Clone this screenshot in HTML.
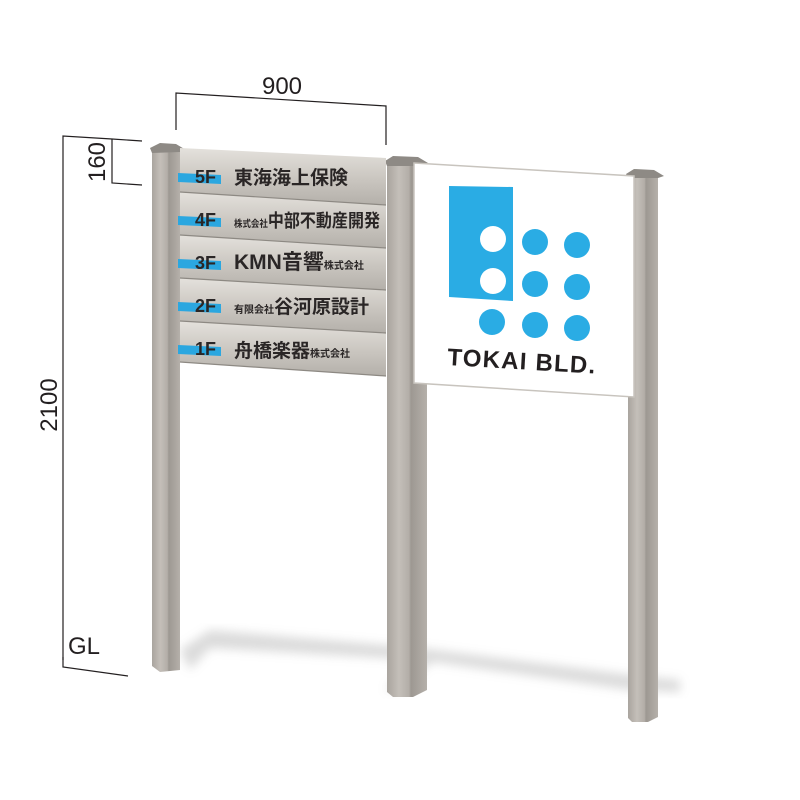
<!DOCTYPE html>
<html><head><meta charset="utf-8"><style>
html,body{margin:0;padding:0;background:#fff}
svg{display:block}
.j{font-family:"Liberation Sans","Noto Sans CJK JP",sans-serif;font-weight:bold;fill:#2a2626}
.d{font-family:"Liberation Sans",sans-serif;fill:#231f20}
</style></head><body>
<svg width="800" height="800" viewBox="0 0 800 800" xmlns="http://www.w3.org/2000/svg">
<defs>
<linearGradient id="post" x1="0" x2="1">
<stop offset="0" stop-color="#a9a49e"/><stop offset="0.3" stop-color="#c4bfb9"/><stop offset="0.55" stop-color="#b3aea8"/><stop offset="0.6" stop-color="#9d9892"/><stop offset="1" stop-color="#b5b0aa"/>
</linearGradient>
<linearGradient id="pan" x1="0" y1="0" x2="0" y2="1">
<stop offset="0" stop-color="#e4e1dc"/><stop offset="0.5" stop-color="#ccc8c2"/><stop offset="1" stop-color="#b4b0aa"/>
</linearGradient>
<filter id="bl"><feGaussianBlur stdDeviation="5"/></filter>
</defs>
<!-- shadow -->
<g filter="url(#bl)" opacity="0.35">
<polygon points="180,650 210,630 420,648 640,676 680,680 680,692 630,690 420,660 210,648 190,670" fill="#9a9a9a"/>
<polygon points="410,665 440,655 400,690 385,690" fill="#9a9a9a"/>
</g>
<!-- dimension lines -->
<g stroke="#231f20" stroke-width="1.2" fill="none">
<polyline points="176,130 176,93 386,106 386,145"/>
<polyline points="63,660 63,136 112,139 142,141"/>
<polyline points="112,139 112,183 142,185"/>
<polyline points="63,657 63,667 128,676"/>
</g>
<text class="d" x="282" y="94" font-size="24" text-anchor="middle">900</text>
<text class="d" font-size="24" text-anchor="middle" transform="translate(105,162) rotate(-90)">160</text>
<text class="d" font-size="24" text-anchor="middle" transform="translate(57,405) rotate(-90)">2100</text>
<text class="d" x="68" y="654" font-size="24">GL</text>
<!-- posts -->
<polygon points="152,150 180,148 180,670 160,672 152,666" fill="url(#post)"/>
<polygon points="150,148 160,143 176,144 186,150 180,152 152,153" fill="#8e8a85"/>
<polygon points="387,163 413,162 427,166 427,690 413,697 393,697 387,692" fill="url(#post)"/>
<polygon points="385,161 393,156 418,157 428,163 413,166 387,166" fill="#8e8a85"/>
<polygon points="628,176 658,175 658,717 648,722 632,722 628,718" fill="url(#post)"/>
<polygon points="626,174 634,169 654,170 664,176 658,178 628,178" fill="#8e8a85"/>
<!-- left panels -->
<g>
<polygon points="180,148 386,158 386,205 180,192" fill="url(#pan)"/>
<polygon points="180,192 386,205 386,248 180,235" fill="url(#pan)"/>
<polygon points="180,235 386,248 386,290 180,278" fill="url(#pan)"/>
<polygon points="180,278 386,290 386,333 180,321" fill="url(#pan)"/>
<polygon points="180,321 386,333 386,376 180,362" fill="url(#pan)"/>
<g stroke="#8d8983" stroke-width="1.2">
<line x1="180" y1="192" x2="386" y2="205"/><line x1="180" y1="235" x2="386" y2="248"/>
<line x1="180" y1="278" x2="386" y2="290"/><line x1="180" y1="321" x2="386" y2="333"/>
<line x1="180" y1="362" x2="386" y2="376"/>
</g>
<g fill="#2ba7e0">
<polygon points="178,173 221,175 221,184 178,182"/>
<polygon points="178,216 221,218 221,227 178,225"/>
<polygon points="178,259 221,261 221,270 178,268"/>
<polygon points="178,302 221,304 221,313 178,311"/>
<polygon points="178,345 221,347 221,356 178,354"/>
</g>
<text class="j" x="195" y="183" font-size="18">5F</text>
<text class="j" x="234" y="184" font-size="19">東海海上保険</text>
<text class="j" x="195" y="226" font-size="18">4F</text>
<text class="j" x="234" y="227" font-size="9.5" textLength="146" lengthAdjust="spacingAndGlyphs">株式会社<tspan font-size="18">中部不動産開発</tspan></text>
<text class="j" x="195" y="269" font-size="18">3F</text>
<text class="j" x="234" y="269" font-size="21">KMN音響<tspan font-size="10">株式会社</tspan></text>
<text class="j" x="195" y="312" font-size="18">2F</text>
<text class="j" x="234" y="313" font-size="10">有限会社<tspan font-size="19">谷河原設計</tspan></text>
<text class="j" x="195" y="355" font-size="18">1F</text>
<text class="j" x="234" y="357" font-size="19">舟橋楽器<tspan font-size="10">株式会社</tspan></text>
</g>
<!-- right sign -->
<polygon points="414,163 634,176 634,397 414,383" fill="#fff" stroke="#c8c4be" stroke-width="1.5"/>
<polygon points="449,186 513,187 513,301 449,297" fill="#2aace4"/>
<g fill="#fff"><circle cx="493" cy="239" r="13"/><circle cx="493" cy="281" r="13"/></g>
<g fill="#2aace4">
<circle cx="535" cy="242" r="13"/><circle cx="577" cy="245" r="13"/>
<circle cx="535" cy="284" r="13"/><circle cx="577" cy="287" r="13"/>
<circle cx="492" cy="322" r="13"/><circle cx="535" cy="325" r="13"/><circle cx="577" cy="328" r="13"/>
</g>
<text x="447" y="365" font-family="Liberation Sans,sans-serif" font-weight="bold" font-size="24" fill="#231f20" transform="rotate(3.3 447 365)" textLength="148">TOKAI BLD.</text>
</svg>
</body></html>
